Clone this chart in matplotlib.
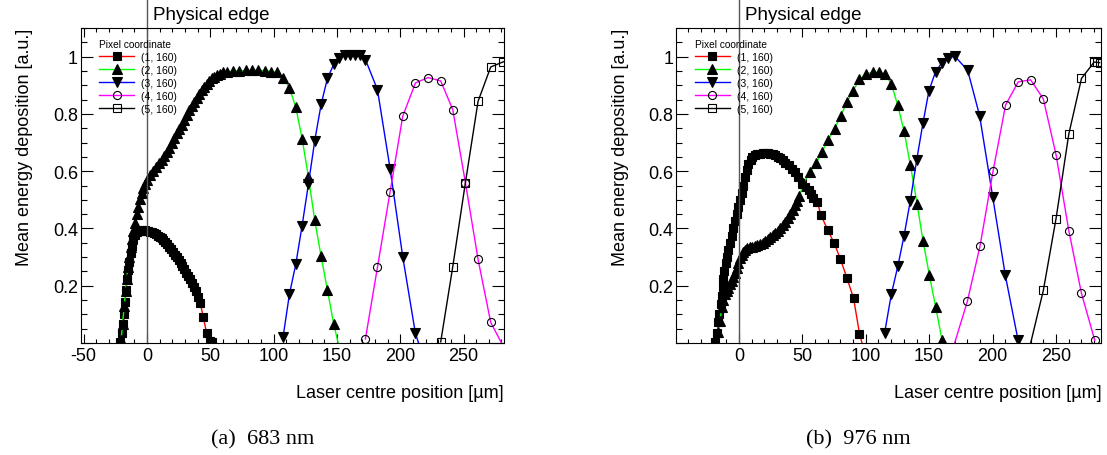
import numpy as np
from matplotlib import pyplot as plt
from matplotlib.ticker import MultipleLocator, FuncFormatter

plt.rcParams['font.family'] = ['Liberation Sans', 'DejaVu Sans']

# ---- (a) 683 nm ----
a1_x = [-21.0, -19.5, -18.7, -17.9, -17.3, -16.6, -15.6, -14.8, -13.9, -12.9,
        -12.0, -10.8, -9.5, -8.0, -6.5, -5.0, -3.5, -2.0, -0.5, 1.0,
        2.5, 4.0, 5.5, 7.0, 8.5, 10.0, 11.5, 13.0, 14.5, 16.0,
        17.5, 19.0, 20.5, 22.0, 23.5, 25.0, 26.5, 28.0, 29.5, 31.0,
        32.5, 34.0, 35.5, 37.0, 38.5, 40.0, 42.0, 44.5, 47.0, 50.0, 51.5]
a1_y = [0.005, 0.035, 0.068, 0.103, 0.144, 0.185, 0.225, 0.256, 0.284, 0.313,
        0.340, 0.364, 0.378, 0.386, 0.390, 0.392, 0.393, 0.393, 0.392, 0.391,
        0.389, 0.387, 0.384, 0.380, 0.375, 0.370, 0.365, 0.359, 0.352, 0.345,
        0.336, 0.327, 0.318, 0.309, 0.300, 0.290, 0.279, 0.268, 0.257, 0.246,
        0.234, 0.222, 0.210, 0.196, 0.181, 0.162, 0.140, 0.090, 0.035, 0.008, 0.002]

a2_x = [-20.5, -19.3, -18.0, -17.0, -16.0, -15.0, -14.0, -13.0, -12.0, -10.8,
        -9.5, -8.2, -6.8, -5.5, -4.2, -2.9, -1.6, 0.3, 2.4, 4.5,
        7.1, 9.7, 11.6, 13.7, 15.5, 17.6, 19.5, 21.6, 23.4, 25.5,
        27.4, 29.2, 31.3, 33.4, 35.3, 37.4, 39.2, 41.3, 43.2, 45.3,
        47.1, 49.2, 51.1, 53.2, 55.0, 57.7, 60.3, 62.9, 68.0, 73.0,
        78.0, 83.0, 88.0, 93.0, 98.0, 102.5, 107.5, 112.5, 117.5, 122.5,
        127.5, 132.5, 137.5, 142.5, 147.5, 151.0]
a2_y = [0.01, 0.068, 0.13, 0.18, 0.225, 0.265, 0.30, 0.335, 0.362, 0.39,
        0.42, 0.449, 0.476, 0.503, 0.524, 0.540, 0.554, 0.569, 0.586, 0.600,
        0.614, 0.627, 0.638, 0.652, 0.668, 0.682, 0.697, 0.716, 0.732, 0.749,
        0.763, 0.778, 0.796, 0.813, 0.828, 0.842, 0.854, 0.868, 0.883, 0.894,
        0.904, 0.914, 0.924, 0.929, 0.935, 0.941, 0.945, 0.947, 0.949, 0.950,
        0.952, 0.952, 0.952, 0.951, 0.948, 0.945, 0.927, 0.891, 0.823, 0.714,
        0.580, 0.428, 0.303, 0.185, 0.065, 0.0]

a3_x = [107.5, 112.5, 117.5, 122.5, 127.5, 132.5, 137.5, 142.5, 147.5, 152.0,
        156.5, 160.5, 164.5, 168.0, 172.5, 182.0, 192.0, 202.0, 212.0, 214.5]
a3_y = [0.022, 0.171, 0.275, 0.41, 0.555, 0.707, 0.833, 0.924, 0.973, 0.996,
        1.005, 1.007, 1.007, 1.005, 0.99, 0.885, 0.609, 0.301, 0.034, 0.0]

a4_x = [172.5, 182.0, 192.0, 202.0, 212.0, 222.0, 232.0, 241.5, 251.5, 261.5, 271.5, 280.0]
a4_y = [0.014, 0.264, 0.528, 0.792, 0.908, 0.927, 0.915, 0.815, 0.56, 0.292, 0.072, 0.0]

a5_x = [232.0, 241.5, 251.5, 261.5, 271.5, 281.5]
a5_y = [0.004, 0.266, 0.56, 0.844, 0.964, 0.982]

# ---- (b) 976 nm ----
b1_x = [-19.0, -17.1, -16.3, -15.5, -14.5, -13.7, -12.9, -12.4, -11.6, -10.5,
        -9.7, -8.4, -7.1, -5.8, -4.5, -3.2, -1.8, -0.5, 0.8, 2.1,
        3.4, 4.7, 6.0, 7.4, 9.0, 10.5, 12.5, 14.5, 16.5, 18.5,
        20.5, 22.5, 24.5, 26.5, 28.5, 30.5, 32.4, 34.5, 36.5, 39.0,
        41.5, 44.2, 46.8, 49.5, 52.0, 54.8, 57.0, 58.7, 61.8, 64.5,
        69.8, 75.0, 79.8, 85.0, 90.3, 95.0, 97.0]
b1_y = [0.003, 0.035, 0.072, 0.101, 0.136, 0.165, 0.196, 0.225, 0.252, 0.28,
        0.3, 0.325, 0.35, 0.375, 0.40, 0.425, 0.45, 0.475, 0.50, 0.525,
        0.55, 0.578, 0.605, 0.625, 0.640, 0.650, 0.656, 0.659, 0.661, 0.662,
        0.662, 0.662, 0.661, 0.659, 0.655, 0.65, 0.645, 0.638, 0.63, 0.62,
        0.608, 0.596, 0.578, 0.558, 0.545, 0.534, 0.52, 0.505, 0.491, 0.448,
        0.396, 0.349, 0.295, 0.228, 0.157, 0.033, 0.0]

b2_x = [-18.4, -16.5, -15.0, -13.7, -12.4, -11.1, -9.7, -8.4, -7.1, -5.8,
        -4.5, -3.2, -1.8, -0.5, 0.8, 2.1, 3.4, 4.7, 6.5, 8.7,
        10.5, 12.6, 14.5, 16.6, 18.5, 20.5, 22.5, 24.5, 26.5, 28.4,
        30.4, 32.4, 34.4, 36.3, 38.3, 40.3, 42.2, 44.2, 45.9, 47.6,
        50.8, 56.1, 60.8, 65.3, 70.0, 75.3, 80.3, 85.0, 89.8, 95.0,
        100.3, 105.3, 110.3, 115.2, 120.2, 125.2, 130.2, 135.2, 140.5, 145.2,
        150.2, 155.2, 160.2]
b2_y = [0.003, 0.04, 0.078, 0.125, 0.15, 0.17, 0.182, 0.193, 0.205, 0.217,
        0.231, 0.245, 0.262, 0.28, 0.296, 0.309, 0.318, 0.326, 0.331, 0.334,
        0.337, 0.339, 0.342, 0.345, 0.349, 0.355, 0.362, 0.369, 0.376, 0.384,
        0.392, 0.401, 0.412, 0.424, 0.436, 0.452, 0.466, 0.482, 0.497, 0.512,
        0.557, 0.598, 0.627, 0.667, 0.708, 0.748, 0.793, 0.841, 0.879, 0.921,
        0.940, 0.945, 0.946, 0.940, 0.904, 0.830, 0.739, 0.621, 0.485, 0.355,
        0.236, 0.124, 0.009]

b3_x = [114.8, 120.1, 125.3, 130.1, 135.1, 140.1, 145.1, 149.8, 155.1, 160.1,
        164.8, 170.1, 180.4, 189.8, 200.1, 210.1, 220.1]
b3_y = [0.034, 0.170, 0.269, 0.373, 0.496, 0.638, 0.768, 0.881, 0.948, 0.979,
        0.994, 1.002, 0.952, 0.794, 0.511, 0.236, 0.011]

b4_x = [170.1, 180.1, 190.1, 200.4, 210.3, 220.3, 230.1, 240.1, 250.1, 260.2, 270.2, 280.7]
b4_y = [0.0, 0.145, 0.338, 0.6, 0.831, 0.912, 0.919, 0.852, 0.658, 0.392, 0.173, 0.009]

b5_x = [230.1, 240.1, 250.1, 260.2, 270.2, 280.2, 282.5, 284.5]
b5_y = [0.0, 0.184, 0.434, 0.73, 0.924, 0.981, 0.980, 0.979]

labels = ['(1, 160)', '(2, 160)', '(3, 160)', '(4, 160)', '(5, 160)']
colors = ['#ff0000', '#00ff00', '#0000ff', '#ff00ff', '#000000']
markers = ['s', '^', 'v', 'o', 's']
filled = [True, True, True, False, False]
sizes = [6.0, 6.6, 6.6, 5.8, 5.8]


def draw_panel(ax, series, x_min, x_max):
    for (xs, ys), color, marker, full, ms, label in zip(series, colors, markers, filled, sizes, labels):
        ys = np.array(ys)
        # points at zero sit below the frame in the original and show no marker
        ax.plot(xs, ys, color=color, lw=1.0, marker=marker, ms=ms,
                mfc='k' if full else 'none', mec='k', mew=0.8,
                markevery=list(ys > 0), label=label)

    # detector edge
    ax.axvline(0, ymin=0, ymax=344 / 315, color='#555555', lw=1.0, clip_on=False)
    ax.annotate('Physical edge', xy=(0, 1), xycoords=('data', 'axes fraction'),
                xytext=(4.3, 6.8), textcoords='offset points', fontsize=13.5,
                ha='left', va='baseline', annotation_clip=False)

    ax.set_xlim(x_min, x_max)
    ax.set_ylim(0, 1.1)
    ax.xaxis.set_major_locator(MultipleLocator(50))
    ax.xaxis.set_minor_locator(MultipleLocator(10))
    ax.yaxis.set_major_locator(MultipleLocator(0.2))
    ax.yaxis.set_minor_locator(MultipleLocator(0.05))
    ax.xaxis.set_major_formatter(FuncFormatter(lambda v, p: '%d' % round(v)))
    ax.yaxis.set_major_formatter(FuncFormatter(lambda v, p: '' if abs(v) < 1e-9 else '%g' % round(v, 2)))

    ax.tick_params(which='both', direction='in', top=True, right=True, width=0.8, labelsize=13)
    ax.tick_params(axis='x', which='major', length=6.5, pad=3)
    ax.tick_params(axis='x', which='minor', length=3.2)
    ax.tick_params(axis='y', which='major', length=8.6, pad=2)
    ax.tick_params(axis='y', which='minor', length=4.3)
    for spine in ax.spines.values():
        spine.set_linewidth(0.8)

    ax.set_xlabel('Laser centre position [µm]', fontsize=13, loc='right', labelpad=14)
    ax.set_ylabel('Mean energy deposition [a.u.]', fontsize=13, loc='top', labelpad=14)

    ax.legend(loc='upper left', bbox_to_anchor=(0.043, 0.965), frameon=False,
              title='Pixel coordinate', alignment='left', fontsize=7.5, title_fontsize=7.3,
              handlelength=3.4, handletextpad=0.65, labelspacing=0.28,
              borderpad=0, borderaxespad=0)


fig = plt.figure(figsize=(11.07, 4.56), dpi=100)

ax_a = fig.add_axes([0.0729, 0.2456, 0.3824, 0.6908])
draw_panel(ax_a, [(a1_x, a1_y), (a2_x, a2_y), (a3_x, a3_y), (a4_x, a4_y), (a5_x, a5_y)], -52.4, 282)

ax_b = fig.add_axes([0.6110, 0.2456, 0.3837, 0.6908])
draw_panel(ax_b, [(b1_x, b1_y), (b2_x, b2_y), (b3_x, b3_y), (b4_x, b4_y), (b5_x, b5_y)], -49.5, 285.7)

# captions under the panels
fig.text(263 / 1107, 1 - 440 / 456, '(a)  683 nm', family='Liberation Serif', fontsize=16, ha='center', va='center')
fig.text(858 / 1107, 1 - 440 / 456, '(b)  976 nm', family='Liberation Serif', fontsize=16, ha='center', va='center')

fig.savefig('out.png', dpi=100)
